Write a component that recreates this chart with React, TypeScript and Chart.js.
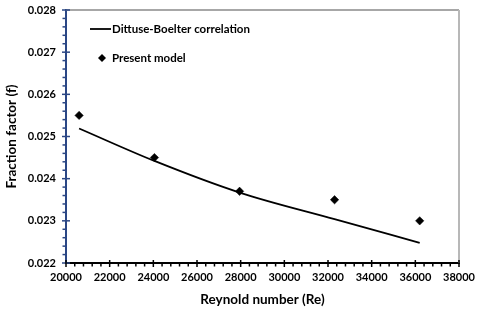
import React, { useEffect, useRef } from "react";
import { Chart, registerables } from "chart.js";

Chart.register(...registerables);

// ---- data ----
const reynolds: number[] = [20600, 24050, 27950, 32300, 36200];
const presentModel: number[] = [0.0255, 0.0245, 0.0237, 0.0235, 0.023];
const correlation: number[] = [0.02519, 0.02442, 0.02367, 0.02304, 0.02248];
const seriesNames: string[] = ["Dittuse-Boelter correlation", "Present model"];
const xRange: number[] = [20000, 38000, 2000, 400]; // min, max, major, minor
const yRange: number[] = [0.022, 0.028, 0.001, 0.0002];
const xTitle = "Reynold number (Re)";
const yTitle = "Fraction factor (f)";

const FONT = "Lato, 'Open Sans', sans-serif";
const YAXIS_COLOR = "#2B4785";

const decorPlugin = {
  id: "decor",
  afterDraw(chart: any) {
    const { ctx, chartArea } = chart;
    const { left, right, top, bottom } = chartArea;
    const xs = chart.scales.x;
    const ys = chart.scales.y;
    ctx.save();
    // top and right frame
    ctx.strokeStyle = "#8a8a8a";
    ctx.lineWidth = 1.5;
    ctx.beginPath();
    ctx.moveTo(left, top);
    ctx.lineTo(right, top);
    ctx.stroke();
    ctx.strokeStyle = "#b8b8b8";
    ctx.lineWidth = 2;
    ctx.beginPath();
    ctx.moveTo(right, top);
    ctx.lineTo(right, bottom);
    ctx.stroke();

    // y ticks
    ctx.strokeStyle = YAXIS_COLOR;
    ctx.lineWidth = 1.5;
    const [yMin, yMax, yMaj, yMin2] = yRange;
    const nY = Math.round((yMax - yMin) / yMin2);
    const perY = Math.round(yMaj / yMin2);
    for (let i = 0; i <= nY; i++) {
      const v = yMin + i * yMin2;
      const p = ys.getPixelForValue(v);
      ctx.beginPath();
      if (i % perY === 0) {
        ctx.moveTo(left - 4, p);
        ctx.lineTo(left + 4, p);
      } else {
        ctx.moveTo(left - 3.5, p);
        ctx.lineTo(left, p);
      }
      ctx.stroke();
    }
    // x ticks
    ctx.strokeStyle = "#000";
    const [xMin, xMax, xMaj, xMin2] = xRange;
    const nX = Math.round((xMax - xMin) / xMin2);
    const perX = Math.round(xMaj / xMin2);
    for (let i = 0; i <= nX; i++) {
      const v = xMin + i * xMin2;
      const p = xs.getPixelForValue(v);
      ctx.beginPath();
      if (i % perX === 0) {
        ctx.moveTo(p, bottom - 3);
        ctx.lineTo(p, bottom + 4);
      } else {
        ctx.moveTo(p, bottom);
        ctx.lineTo(p, bottom + 3.5);
      }
      ctx.stroke();
    }

    // legend
    const lx = left + 24;
    const ly1 = top + 19;
    const ly2 = top + 48;
    ctx.strokeStyle = "#000";
    ctx.lineWidth = 1.8;
    ctx.beginPath();
    ctx.moveTo(lx, ly1);
    ctx.lineTo(lx + 21, ly1);
    ctx.stroke();
    const dx = lx + 12;
    ctx.fillStyle = "#000";
    ctx.beginPath();
    ctx.moveTo(dx, ly2 - 4);
    ctx.lineTo(dx + 4, ly2);
    ctx.lineTo(dx, ly2 + 4);
    ctx.lineTo(dx - 4, ly2);
    ctx.closePath();
    ctx.fill();
    ctx.font = `bold 11.5px ${FONT}`;
    ctx.textBaseline = "middle";
    ctx.textAlign = "left";
    ctx.fillText(seriesNames[0], lx + 22, ly1);
    ctx.fillText(seriesNames[1], lx + 22, ly2);
    ctx.restore();
  },
};

export default function App() {
  const ref = useRef<HTMLCanvasElement | null>(null);
  useEffect(() => {
    if (!ref.current) return;
    const chart = new Chart(ref.current, {
      type: "scatter",
      data: {
        datasets: [
          {
            type: "line",
            label: seriesNames[0],
            data: reynolds.map((x, i) => ({ x, y: correlation[i] })),
            borderColor: "#000",
            borderWidth: 1.8,
            pointRadius: 0,
            cubicInterpolationMode: "monotone",
            fill: false,
            order: 2,
          } as any,
          {
            type: "scatter",
            label: seriesNames[1],
            data: reynolds.map((x, i) => ({ x, y: presentModel[i] })),
            pointStyle: "rectRot",
            pointRadius: 4.2,
            backgroundColor: "#000",
            borderColor: "#000",
            borderWidth: 0.5,
            order: 1,
          },
        ],
      },
      options: {
        responsive: false,
        animation: false,
        devicePixelRatio: 1,
        layout: { padding: { left: 0, right: 21, top: 10, bottom: 0 } },
        plugins: { legend: { display: false }, tooltip: { enabled: false } },
        scales: {
          x: {
            type: "linear",
            min: xRange[0],
            max: xRange[1],
            ticks: {
              stepSize: xRange[2],
              color: "#000",
              font: { family: FONT, size: 11, weight: "bold" },
              padding: 8,
              maxRotation: 0,
              callback: (v: any) => String(v),
            },
            grid: { display: false, drawTicks: false },
            border: { display: true, color: "#000", width: 2 },
            title: {
              display: true,
              text: xTitle,
              color: "#000",
              font: { family: FONT, size: 13.5, weight: "bold" },
              padding: { top: 0, bottom: 3 },
            },
            afterFit: (s: any) => {
              s.height = 48;
              s.paddingLeft = 0;
              s.paddingRight = 0;
            },
          },
          y: {
            type: "linear",
            min: yRange[0],
            max: yRange[1],
            ticks: {
              stepSize: yRange[2],
              color: "#000",
              font: { family: FONT, size: 11, weight: "bold" },
              padding: 10,
              callback: (v: any) => Number(v).toFixed(3),
            },
            grid: { display: false, drawTicks: false },
            border: { display: true, color: YAXIS_COLOR, width: 2 },
            title: {
              display: true,
              text: yTitle,
              color: "#000",
              font: { family: FONT, size: 13.5, weight: "bold" },
              padding: { top: 4, bottom: 0 },
            },
            afterFit: (s: any) => {
              s.width = 66;
              s.paddingTop = 0;
              s.paddingBottom = 0;
            },
          },
        },
      },
      plugins: [decorPlugin],
    });
    return () => chart.destroy();
  }, []);
  return (
    <div style={{ position: "absolute", left: 0, top: 0, width: 480, height: 311, background: "#fff" }}>
      <canvas ref={ref} width={480} height={311} />
    </div>
  );
}
